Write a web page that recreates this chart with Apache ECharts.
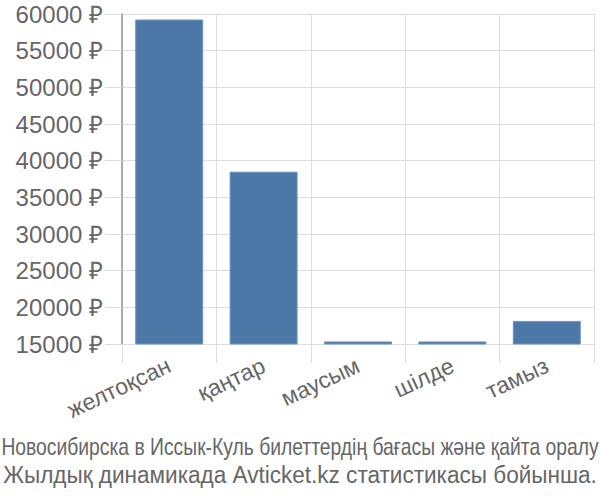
<!DOCTYPE html>
<html>
<head>
<meta charset="utf-8">
<script src="https://cdn.jsdelivr.net/npm/echarts@6/dist/echarts.min.js"></script>
<style>
html,body{margin:0;padding:0;background:#fff;}
#chart{width:600px;height:500px;}
</style>
</head>
<body>
<div id="chart"></div>
<script>
const categories = ['желтоқсан', 'қаңтар', 'маусым', 'шілде', 'тамыз'];
const prices = [59250, 38500, 15350, 15350, 18150];
const yTicks = { min: 15000, max: 60000, interval: 5000 };
const captionLine1 = 'Новосибирска в Иссык-Куль билеттердің бағасы және қайта оралу';
const captionLine2 = 'Жылдық динамикада Avticket.kz статистикасы бойынша.';

const FONT = '"Liberation Sans", Arial, sans-serif';
const capFont = '23px ' + FONT;
const cnv = document.createElement('canvas').getContext('2d');
cnv.font = capFont;
const scale1 = Math.min(1, 598 / cnv.measureText(captionLine1).width);
const scale2 = Math.min(1, 594 / cnv.measureText(captionLine2).width);

const chart = echarts.init(document.getElementById('chart'), null, { renderer: 'svg' });
chart.setOption({
  animation: false,
  grid: { left: 122, right: 6, top: 14, bottom: 156, containLabel: false },
  graphic: [
    { type: 'text', x: 300, y: 447, scaleX: scale1,
      style: { text: captionLine1, font: capFont, fill: '#666', align: 'center', verticalAlign: 'middle' } },
    { type: 'text', x: 300, y: 475, scaleX: scale2,
      style: { text: captionLine2, font: capFont, fill: '#666', align: 'center', verticalAlign: 'middle' } }
  ],
  xAxis: {
    type: 'category',
    data: categories,
    boundaryGap: true,
    axisLine: { show: false },
    axisTick: { show: true, length: 19, lineStyle: { color: '#ddd', width: 1 } },
    splitLine: { show: true, lineStyle: { color: '#ddd', width: 1 } },
    axisLabel: { rotate: 25, margin: 20, fontSize: 23, color: '#666', fontFamily: FONT }
  },
  yAxis: {
    type: 'value',
    min: yTicks.min, max: yTicks.max, interval: yTicks.interval,
    axisLine: { show: true, lineStyle: { color: '#aaa', width: 2 } },
    axisTick: { show: true, length: 17, lineStyle: { color: '#ddd', width: 1 } },
    splitLine: { show: true, lineStyle: { color: '#ddd', width: 1 } },
    axisLabel: { margin: 19, fontSize: 24, color: '#666', fontFamily: FONT,
      formatter: v => v + ' ₽' }
  },
  series: [{
    type: 'bar',
    data: prices,
    barCategoryGap: '28%',
    itemStyle: { color: '#4c78a8', borderColor: '#6d93c0', borderWidth: 1 }
  }]
});
</script>
</body>
</html>
